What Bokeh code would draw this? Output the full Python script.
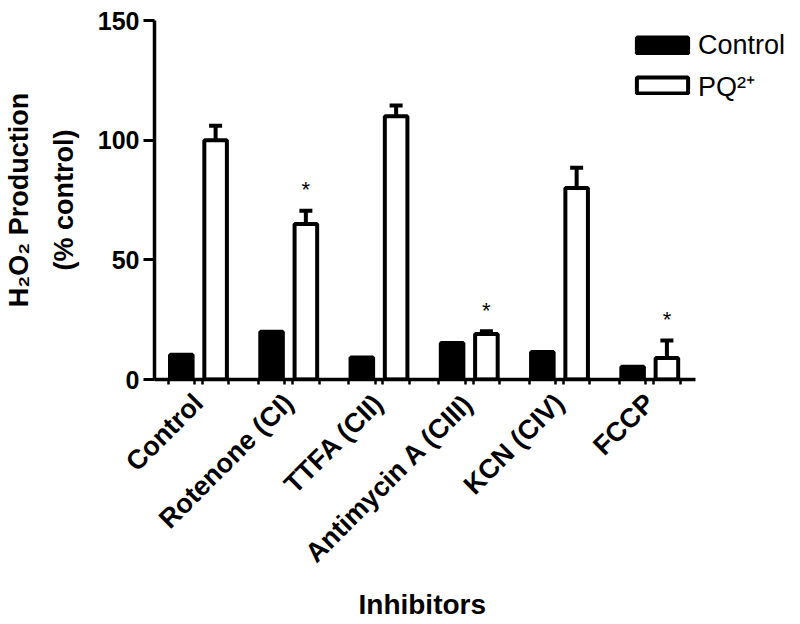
import math
from bokeh.plotting import figure
from bokeh.models import (ColumnDataSource, Range1d, FixedTicker, Whisker, TeeHead,
                          Legend, LegendItem, Title)
from bokeh.core.properties import value
from bokeh.embed import file_html
from bokeh.resources import INLINE

# ---- data ----
inhibitors = ["Control", "Rotenone (CI)", "TTFA (CII)", "Antimycin A (CIII)", "KCN (CIV)", "FCCP"]
control_vals = [10.3, 20.0, 9.2, 15.3, 11.5, 5.3]
pq_vals = [100.0, 65.0, 110.0, 19.0, 80.0, 9.0]
pq_sem = [6.0, 5.5, 4.5, 1.2, 8.5, 7.3]
significant = ["", "*", "", "*", "", "*"]
y_ticks = [0, 50, 100, 150]
series_names = ["Control", "PQ\u00b2\u207a"]

FONT = "Liberation Sans"
n = len(inhibitors)
idx = list(range(n))
offset = 0.19
bw = 0.25
LW = 4

W, H = 800, 624
LEFT, TOP, BOTTOM = 153, 20, 244
PX_PER_UNIT = 90.4
x_start = -0.487
x_axis_end = 5.51
x_end = x_start + (W - LEFT) / PX_PER_UNIT

p = figure(width=W, height=H, x_range=Range1d(x_start, x_end), y_range=Range1d(0, 150),
           output_backend="svg", toolbar_location=None,
           min_border_left=LEFT, min_border_right=0, min_border_top=TOP, min_border_bottom=BOTTOM)
p.outline_line_color = None
p.xgrid.visible = False
p.ygrid.visible = False
p.background_fill_color = "white"
p.border_fill_color = "white"

src_c = ColumnDataSource(dict(x=[i - offset for i in idx], top=control_vals))
src_p = ColumnDataSource(dict(x=[i + offset for i in idx], top=pq_vals,
                              upper=[v + e for v, e in zip(pq_vals, pq_sem)],
                              star=significant))

r_c = p.vbar(x="x", top="top", width=bw, bottom=0, source=src_c,
             fill_color="black", line_color="black", line_width=LW)
whisk = Whisker(source=src_p, base="x", lower="top", upper="upper",
                line_width=LW, line_color="black", lower_head=None,
                upper_head=TeeHead(size=13, line_width=LW, line_color="black"))
p.add_layout(whisk)
r_p = p.vbar(x="x", top="top", width=bw, bottom=0, source=src_p,
             fill_color="white", line_color="black", line_width=LW)
p.text(x="x", y="upper", text="star", source=src_p, text_align="center",
       text_baseline="alphabetic", y_offset=-21, text_font=value(FONT),
       text_font_size="22px", text_color="black")

# ---- x axis ----
half = bw / 2 + 0.022
edges = []
for i in idx:
    for c in (i - offset, i + offset):
        edges += [c - half, c + half]
xa = p.xaxis[0]
xa.bounds = (x_start, x_axis_end)
xa.ticker = FixedTicker(ticks=idx, minor_ticks=edges)
xa.major_label_overrides = {i: name for i, name in enumerate(inhibitors)}
xa.major_tick_in = 0
xa.major_tick_out = 0
xa.minor_tick_in = 0
xa.minor_tick_out = 5
xa.minor_tick_line_width = 2.5
xa.minor_tick_line_color = "black"
xa.axis_line_width = 3.5
xa.axis_line_color = "black"
xa.major_label_orientation = math.pi / 4
xa.major_label_text_font = FONT
xa.major_label_text_font_size = "27px"
xa.major_label_text_font_style = "bold"
xa.major_label_text_color = "black"
xa.major_label_standoff = 14

p.add_layout(Title(text="Inhibitors", align="left", offset=204, standoff=10,
                   text_font=FONT, text_font_size="28px", text_font_style="bold",
                   text_color="black"), "below")

# ---- y axis ----
ya = p.yaxis[0]
ya.ticker = FixedTicker(ticks=y_ticks, minor_ticks=[])
ya.major_tick_in = 0
ya.major_tick_out = 11
ya.major_tick_line_width = 3
ya.major_tick_line_color = "black"
ya.axis_line_width = 3.5
ya.axis_line_color = "black"
ya.major_label_text_font = FONT
ya.major_label_text_font_size = "25px"
ya.major_label_text_font_style = "bold"
ya.major_label_text_color = "black"
ya.major_label_standoff = 4
ya.axis_label = "H\u2082O\u2082 Production\n(% control)"
ya.axis_label_text_font = FONT
ya.axis_label_text_font_size = "27px"
ya.axis_label_text_font_style = "bold"
ya.axis_label_text_color = "black"
ya.axis_label_text_line_height = 1.5
ya.axis_label_standoff = 16

# ---- legend ----
legend = Legend(items=[LegendItem(label=series_names[0], renderers=[r_c]),
                       LegendItem(label=series_names[1], renderers=[r_p])],
                location=(476, 275.5), orientation="vertical",
                glyph_width=64, glyph_height=20, label_height=20,
                label_text_font=FONT, label_text_font_size="27px", label_text_color="black",
                label_standoff=4, spacing=6, padding=0, margin=0,
                border_line_color=None, background_fill_alpha=0)
p.add_layout(legend)

open("out.html", "w").write(file_html(p, INLINE))
